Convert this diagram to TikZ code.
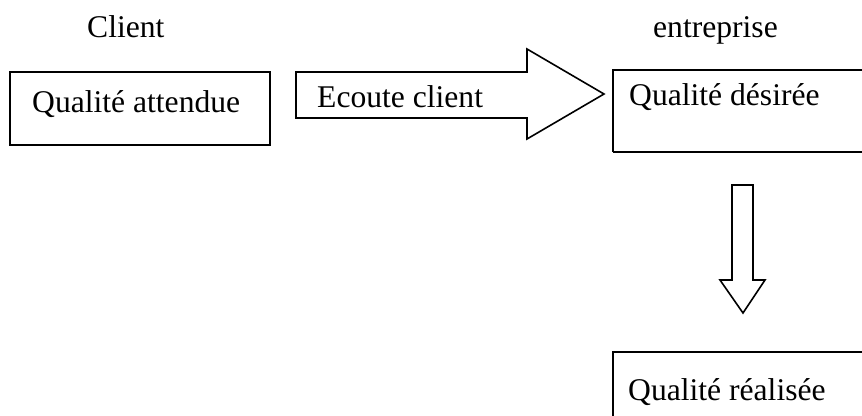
\documentclass[tikz,border=0pt]{standalone}
\usepackage{fontspec}
\setmainfont{Liberation Serif}
\begin{document}
\begin{tikzpicture}[x=1pt,y=-1pt,
  lbl/.style={anchor=base west,inner sep=0pt,font=\fontsize{31.6}{38}\selectfont},
  boxline/.style={draw=black,line width=1.8pt},
  blockarrow/.style={draw=black,line width=1.6pt,line join=miter,fill=white}]
\useasboundingbox (0,0) rectangle (862,415);
\clip (0,0) rectangle (862,415);
% headings
\node[lbl] (client) at (87,37) {Client};
\node[lbl] (entr) at (653,37) {entreprise};
% box 1
\draw[boxline] (10,72) rectangle (270,145);
\node[lbl] (qa) at (32,112) {Qualité attendue};
% right block arrow
\draw[blockarrow] (296,72) -- (527,72) -- (527,49) -- (604,94) -- (527,139) -- (527,118) -- (296,118) -- cycle;
\node[lbl] (ec) at (317,107) {Ecoute client};
% box 2
\draw[boxline] (613,152) -- (613,70) -- (880,70);
\draw[boxline] (613,152) -- (880,152);
\node[lbl] (qd) at (629,105) {Qualité désirée};
% down block arrow
\draw[blockarrow] (732,185) -- (753,185) -- (753,280) -- (765,280) -- (743,313) -- (720,280) -- (732,280) -- cycle;
% box 3
\draw[boxline] (613,430) -- (613,352) -- (880,352);
\node[lbl] (qr) at (628,400) {Qualité réalisée};
\end{tikzpicture}
\end{document}
